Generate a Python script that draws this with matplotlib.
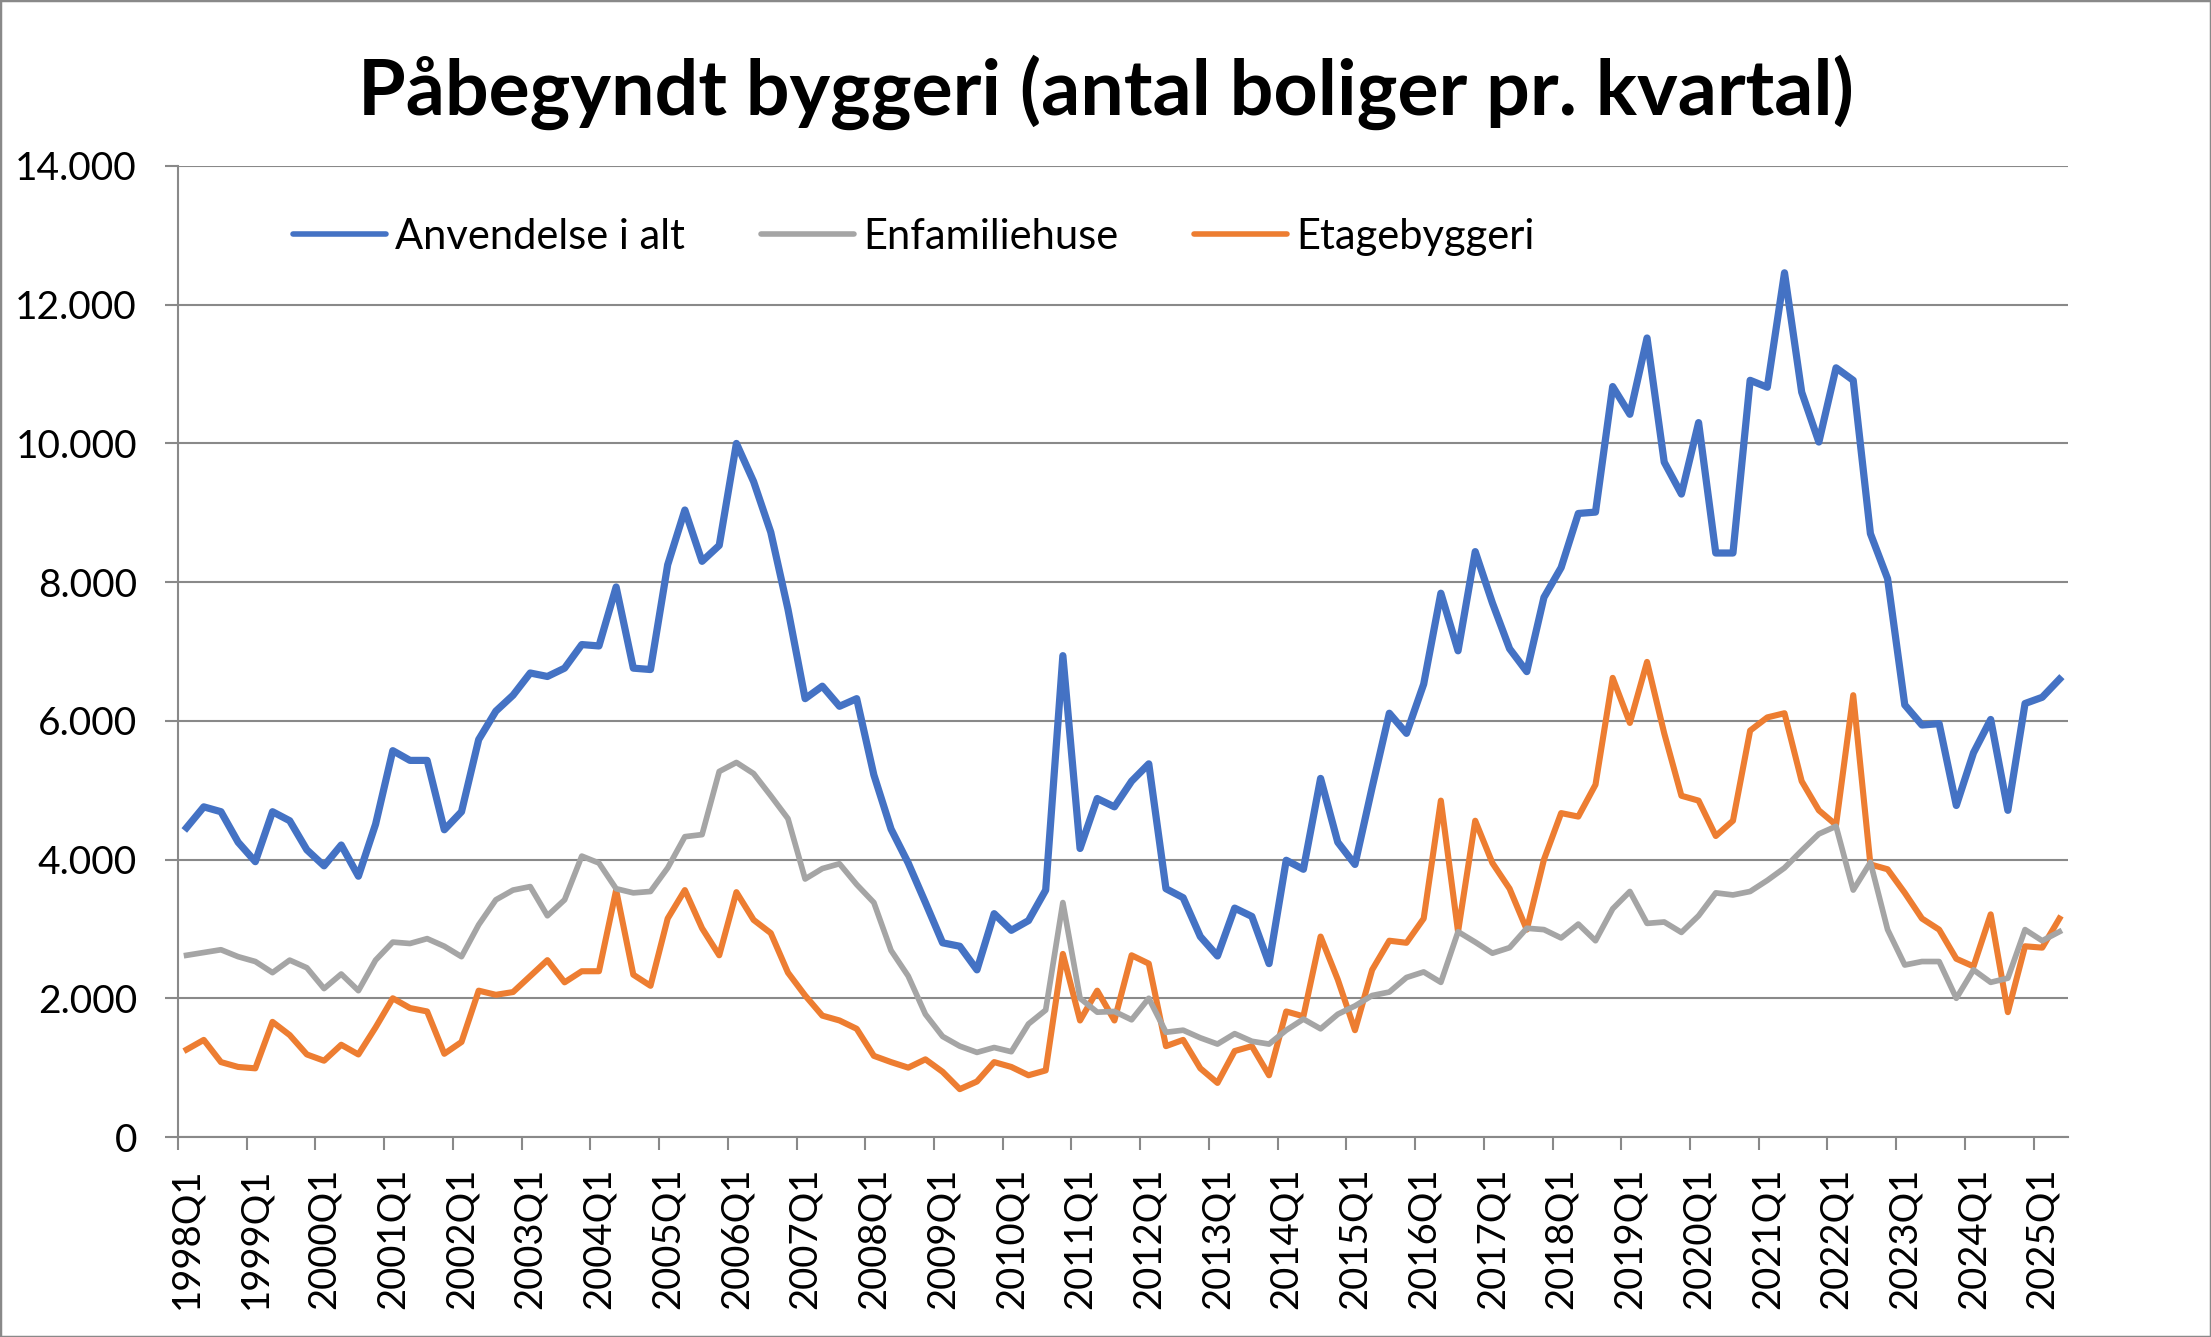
import numpy as np
import matplotlib
matplotlib.use("Agg")
import matplotlib.pyplot as plt
from matplotlib.patches import Rectangle
from matplotlib.ticker import FuncFormatter

plt.rcParams['font.family'] = ['Lato', 'DejaVu Sans']

# kvartaler 1998Q1 - 2025Q2
start_year = 1998
n_quarters = 110

anvendelse_i_alt = [
    4460, 4760, 4690, 4250, 3970, 4690, 4560, 4140, 3910, 4210,
    3760, 4510, 5570, 5430, 5430, 4430, 4690, 5730, 6140, 6370,
    6690, 6640, 6760, 7100, 7080, 7930, 6760, 6740, 8250, 9040,
    8300, 8530, 10000, 9450, 8720, 7610, 6320, 6500, 6210, 6320,
    5220, 4440, 3950, 3380, 2800, 2750, 2410, 3220, 2980, 3120,
    3560, 6940, 4160, 4880, 4760, 5130, 5380, 3580, 3450, 2890,
    2610, 3300, 3180, 2500, 3990, 3860, 5170, 4250, 3930, 5040,
    6110, 5820, 6530, 7840, 7010, 8440, 7700, 7040, 6710, 7780,
    8210, 8990, 9010, 10820, 10420, 11520, 9730, 9270, 10300, 8420,
    8420, 10910, 10810, 12460, 10740, 10020, 11090, 10910, 8700, 8050,
    6230, 5940, 5960, 4780, 5540, 6020, 4710, 6250, 6340, 6600,
]

enfamiliehuse = [
    2620, 2660, 2700, 2600, 2530, 2370, 2550, 2440, 2140, 2350,
    2110, 2550, 2810, 2790, 2860, 2750, 2600, 3060, 3420, 3560,
    3610, 3190, 3420, 4050, 3950, 3580, 3520, 3540, 3880, 4330,
    4360, 5270, 5400, 5240, 4920, 4590, 3720, 3870, 3940, 3640,
    3380, 2690, 2320, 1770, 1450, 1310, 1220, 1290, 1230, 1630,
    1830, 3380, 2000, 1800, 1810, 1690, 2000, 1510, 1540, 1430,
    1340, 1490, 1380, 1340, 1540, 1700, 1560, 1770, 1890, 2040,
    2090, 2300, 2380, 2230, 2960, 2810, 2650, 2730, 3010, 2990,
    2870, 3070, 2830, 3290, 3540, 3080, 3100, 2950, 3190, 3520,
    3490, 3540, 3700, 3880, 4130, 4370, 4480, 3560, 3960, 2990,
    2480, 2530, 2530, 2000, 2410, 2230, 2290, 2990, 2830, 2960,
]

etagebyggeri = [
    1260, 1400, 1080, 1010, 990, 1660, 1470, 1190, 1100, 1330,
    1190, 1580, 2000, 1860, 1810, 1200, 1370, 2110, 2050, 2090,
    2320, 2550, 2230, 2390, 2390, 3560, 2340, 2180, 3150, 3560,
    3010, 2620, 3530, 3130, 2940, 2370, 2040, 1750, 1680, 1560,
    1170, 1080, 1000, 1120, 940, 690, 800, 1080, 1010, 890,
    960, 2640, 1680, 2110, 1680, 2620, 2500, 1310, 1400, 990,
    780, 1240, 1310, 890, 1810, 1740, 2890, 2270, 1540, 2410,
    2830, 2800, 3150, 4850, 2960, 4560, 3950, 3580, 2990, 4000,
    4670, 4620, 5080, 6620, 5970, 6850, 5820, 4920, 4850, 4340,
    4560, 5860, 6050, 6110, 5130, 4710, 4500, 6370, 3930, 3860,
    3520, 3150, 2990, 2570, 2460, 3210, 1800, 2750, 2730, 3150,
]

x = np.arange(n_quarters)
label_pos = np.arange(0, n_quarters, 4)
labels = [f"{start_year + k}Q1" for k in range(len(label_pos))]

grey = '#898989'

fig = plt.figure(figsize=(22.11, 13.37), dpi=100)
ax = fig.add_axes([178 / 2211, 1 - 1137 / 1337, (2068 - 178) / 2211, (1137 - 166) / 1337])

ax.plot(x, etagebyggeri, color='#ED7D31', lw=4.4, label='Etagebyggeri', zorder=3)
ax.plot(x, enfamiliehuse, color='#A5A5A5', lw=4.1, label='Enfamiliehuse', zorder=3)
ax.plot(x, anvendelse_i_alt, color='#4472C4', lw=5.2, label='Anvendelse i alt', zorder=4)

ax.set_xlim(-0.5, n_quarters - 0.5)
ax.set_ylim(0, 14000)
ax.set_yticks(np.arange(0, 14001, 2000))
ax.yaxis.set_major_formatter(FuncFormatter(lambda v, p: f"{v:,.0f}".replace(",", ".")))
ax.grid(axis='y', color=grey, lw=1.5)
ax.set_axisbelow(True)

# tick marks mellem kategorier, labels midt på kategorien
ax.set_xticks(np.arange(-0.5, n_quarters - 1, 4))
ax.set_xticklabels([])
ax.set_xticks(label_pos, minor=True)
ax.set_xticklabels(labels, minor=True, rotation=90, va='top')
ax.tick_params(axis='x', which='major', length=9.5, width=1.5, color=grey, direction='out')
ax.tick_params(axis='x', which='minor', length=0, pad=22, labelsize=27.5)
ax.tick_params(axis='y', length=9.5, width=1.5, color=grey, pad=20, labelsize=28)

for s in ['top', 'right']:
    ax.spines[s].set_visible(False)
for s in ['left', 'bottom']:
    ax.spines[s].set_color(grey)
    ax.spines[s].set_linewidth(1.5)

h, l = ax.get_legend_handles_labels()
order = [2, 1, 0]
leg = ax.legend([h[i] for i in order], [l[i] for i in order], ncol=3, frameon=False,
                loc='center left', bbox_to_anchor=(293 / 2211, 1 - 237 / 1337),
                bbox_transform=fig.transFigure, borderpad=0, borderaxespad=0,
                fontsize=30, handlelength=2.23, handletextpad=0.22, columnspacing=1.82)
for line in leg.get_lines():
    line.set_linewidth(4.0)
    line.set_solid_capstyle('round')

fig.text(0.5, 1 - 115 / 1337, 'Påbegyndt byggeri (antal boliger pr. kvartal)',
         ha='center', va='baseline', fontsize=55.5, fontweight='bold')

fig.patches.append(Rectangle((0, 0), 1, 1, transform=fig.transFigure, fill=False,
                             edgecolor=grey, lw=2.5))

fig.savefig('out.png', dpi=100)
